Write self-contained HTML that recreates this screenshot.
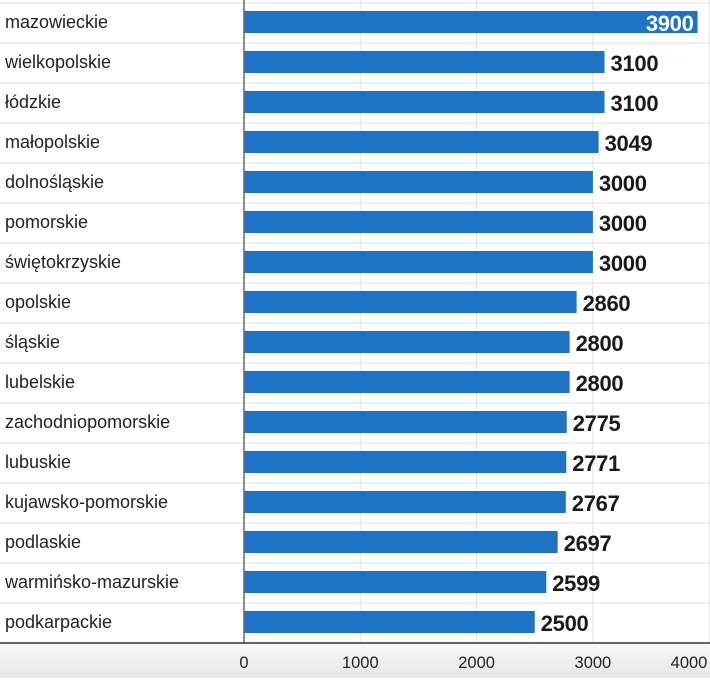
<!DOCTYPE html>
<html><head><meta charset="utf-8"><style>
body{margin:0;background:#fff;width:710px;height:678px;overflow:hidden;font-family:"Liberation Sans",sans-serif}
</style></head><body>
<svg id="c" width="710" height="678"></svg>
<script>
const categories=["mazowieckie","wielkopolskie","łódzkie","małopolskie","dolnośląskie","pomorskie","świętokrzyskie","opolskie","śląskie","lubelskie","zachodniopomorskie","lubuskie","kujawsko-pomorskie","podlaskie","warmińsko-mazurskie","podkarpackie"];
const values=[3900,3100,3100,3049,3000,3000,3000,2860,2800,2800,2775,2771,2767,2697,2599,2500];
const ticks=[0,1000,2000,3000,4000];
const NS="http://www.w3.org/2000/svg";
const svg=document.getElementById("c");
const x0=244,pxPer=0.1163,top0=3,rowH=40,barH=22,base=643;
const xs=v=>x0+v*pxPer;
const ys=i=>top0+i*rowH;
function mk(t,a,p){const e=document.createElementNS(NS,t);for(const k in a)e.setAttribute(k,a[k]);(p||svg).appendChild(e);return e;}
const defs=mk("defs",{});
const g=mk("linearGradient",{id:"bg",x1:0,y1:0,x2:0,y2:1},defs);
mk("stop",{offset:"0","stop-color":"#fafafa"},g);mk("stop",{offset:"1","stop-color":"#e6e6e6"},g);
const band=mk("rect",{x:0,y:base,width:710,height:678-base,fill:"url(#bg)"});


ticks.forEach(t=>{
  if(t>0&&xs(t)<710){const l=mk("line",{x1:xs(t),x2:xs(t),y1:0,y2:base,stroke:"#e2e2e2","stroke-width":1});
  
  }
  const tx=Math.min(xs(t),689);
  const tl=mk("text",{x:tx,y:668,"text-anchor":"middle","font-size":16.5,fill:"#222"});tl.textContent=t;
  
  
});
categories.forEach((c,i)=>{
  const y=ys(i);
  const sep=mk("line",{x1:0,x2:710,y1:y,y2:y,stroke:"#e0e0e0","stroke-width":1});
  
  
  const lab=mk("text",{x:5,y:y+25,"font-size":18,fill:"#222"});lab.textContent=c;
  
  
  const v=values[i];
  const b=mk("rect",{x:x0,y:y+(rowH-barH)/2-1,width:xs(v)-x0,height:barH,fill:"#1e73c5"});
  
  
  const inside=xs(v)+60>706;
  const vl=mk("text",{x:inside?xs(v)-4:xs(v)+6,y:y+28,"font-size":22,"font-weight":"bold","text-anchor":inside?"end":"start",fill:inside?"#fff":"#1a1a1a","letter-spacing":"-0.3"});
  vl.textContent=v;
  
  
});
const ax=mk("line",{x1:x0,x2:x0,y1:0,y2:base,stroke:"#666","stroke-width":1.5});


const bl=mk("line",{x1:0,x2:710,y1:base,y2:base,stroke:"#333","stroke-width":1.5});


</script>
</body></html>
